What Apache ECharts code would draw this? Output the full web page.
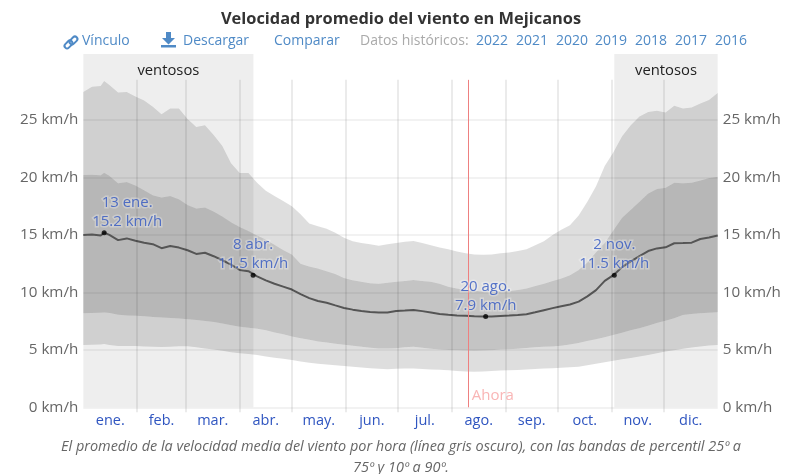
<!DOCTYPE html>
<html><head><meta charset="utf-8">
<style>html,body{margin:0;padding:0;background:#fff}#c{width:792px;height:474px}</style>
<script src="https://cdn.jsdelivr.net/npm/echarts@6/dist/echarts.min.js"></script>
</head><body><div id="c"></div>
<script>
const days=[0,5,10,12,15,20,25,30,35,40,45,50,55,60,65,70,75,80,85,90,95,100,105,110,115,120,125,130,135,140,145,150,155,160,165,170,175,180,185,190,195,200,205,210,215,220,225,230,235,240,245,250,255,260,265,270,275,280,285,290,295,300,305,310,315,320,325,330,335,340,345,350,355,360,365];
const p90=[27.45,27.9,27.97,28.4,28.05,27.4,27.45,27.05,26.7,26.15,25.5,26.0,26.0,25.1,24.4,24.55,23.7,22.75,21.25,20.4,20.4,19.55,18.85,18.4,17.95,17.5,16.8,16.0,15.75,15.55,15.2,14.75,14.45,14.3,14.2,14.05,14.2,14.3,14.4,14.47,14.3,14.1,13.9,13.75,13.55,13.4,13.3,13.28,13.3,13.4,13.47,13.6,13.75,14.1,14.45,15.0,15.45,15.85,16.7,17.9,19.25,21.0,22.2,23.6,24.55,25.3,25.7,25.8,25.65,26.25,26.0,26.1,26.45,26.75,27.35];
const p75=[20.22,20.25,20.2,20.42,20.15,19.5,19.6,19.3,18.9,18.45,18.25,18.4,18.1,17.6,17.3,17.4,17.05,16.6,16.1,15.7,15.35,14.95,14.6,14.15,13.7,13.3,12.5,12.25,12.08,11.85,11.6,11.25,11.05,10.92,10.8,10.75,10.85,10.93,11.0,11.08,11.0,10.92,10.75,10.5,10.35,10.22,10.15,10.08,10.07,10.1,10.13,10.22,10.35,10.55,10.75,11.0,11.2,11.5,11.95,12.6,13.5,14.3,15.4,16.5,17.2,17.9,18.6,19.0,19.1,19.55,19.5,19.55,19.75,19.95,20.07];
const mean=[15.0,15.05,14.95,15.2,15.0,14.55,14.7,14.5,14.32,14.2,13.85,14.04,13.9,13.67,13.35,13.45,13.15,12.8,12.42,11.95,11.85,11.4,11.05,10.75,10.5,10.25,9.85,9.5,9.25,9.1,8.87,8.65,8.5,8.38,8.3,8.26,8.26,8.38,8.42,8.47,8.37,8.25,8.13,8.05,8.0,7.97,7.93,7.9,7.9,7.94,7.98,8.03,8.1,8.27,8.45,8.63,8.8,8.95,9.2,9.65,10.2,11.0,11.5,12.2,12.7,13.15,13.6,13.83,13.92,14.28,14.3,14.33,14.65,14.78,14.95];
const p25=[8.18,8.2,8.22,8.26,8.2,8.05,8.0,7.97,7.92,7.87,7.82,7.78,7.72,7.67,7.6,7.52,7.43,7.3,7.15,7.0,6.92,6.83,6.7,6.52,6.35,6.17,6.02,5.88,5.73,5.63,5.53,5.44,5.35,5.27,5.18,5.12,5.12,5.15,5.22,5.27,5.18,5.1,5.02,4.98,4.96,4.94,4.93,4.94,4.96,5.02,5.05,5.1,5.17,5.22,5.27,5.3,5.35,5.47,5.6,5.78,5.93,6.1,6.3,6.48,6.7,6.87,7.1,7.33,7.53,7.75,8.03,8.12,8.18,8.22,8.27];
const p10=[5.42,5.44,5.46,5.5,5.42,5.34,5.33,5.33,5.3,5.27,5.25,5.28,5.32,5.32,5.22,5.12,5.04,4.92,4.8,4.7,4.64,4.55,4.43,4.32,4.22,4.12,3.98,3.87,3.78,3.72,3.66,3.6,3.53,3.46,3.4,3.36,3.32,3.35,3.38,3.37,3.33,3.3,3.26,3.22,3.17,3.12,3.1,3.12,3.16,3.2,3.23,3.25,3.3,3.33,3.37,3.4,3.44,3.49,3.54,3.65,3.78,3.92,4.06,4.18,4.3,4.42,4.55,4.7,4.85,4.97,5.1,5.2,5.3,5.37,5.42];
const monthNames=['ene.','feb.','mar.','abr.','may.','jun.','jul.','ago.','sep.','oct.','nov.','dic.'];
const monthEdges=[0,31,59,90,120,151,181,212,243,273,304,334,365];
const yTicks=[0,5,10,15,20,25];
const calloutDays=[12,97.7,231.5,305.5];
const calloutValues=[15.2,11.5,7.9,11.5];
const calloutDates=['13 ene.','8 abr.','20 ago.','2 nov.'];
const calloutShift=[23,0,0,0];
const windyPeriods=[[0,97.9],[305.5,365]];
const nowDay=221.2;
const years=['2022','2021','2020','2019','2018','2017','2016'];

const UI='"Open Sans","Noto Sans",sans-serif';
const linesTop=28.5, yTop=30.75;
const labelBlue='#2f55c0', linkBlue='#4f8ac6';
const pairs=a=>days.map((d,i)=>[d,a[i]]);
const mids=monthNames.map((_,i)=>(monthEdges[i]+monthEdges[i+1])/2);
const inner=monthEdges.slice(1,-1);
// One band = one polygon between two percentile curves, placed through the axes' scales.
const band=(name,lo,hi,color)=>({name,type:'custom',z:2,silent:true,clip:false,
  data:days.map((d,i)=>[d,lo[i],hi[i]]),encode:{x:0,y:[1,2]},
  renderItem:(p,api)=>{
    if(p.dataIndex!==0) return null;
    const top=days.map((d,i)=>api.coord([d,hi[i]]));
    const bot=days.map((d,i)=>api.coord([d,lo[i]])).reverse();
    return {type:'polygon',shape:{points:top.concat(bot)},style:{fill:color}};
  }});

const yAxisBase={type:'value',min:0,max:yTop,interval:5,axisLine:{show:false},
  axisTick:{show:false,customValues:yTicks},
  axisLabel:{customValues:yTicks,formatter:v=>v+' km/h',color:'#666',fontSize:15.2,fontFamily:UI,margin:5,hideOverlap:false}};

const series=[
  {name:'fondo',type:'line',data:[],symbol:'none',silent:true,z:1,
   markArea:{silent:true,itemStyle:{color:'rgba(0,0,0,0.066)'},
     label:{show:true,position:'insideTop',distance:9,color:'#222',fontSize:14.8,fontFamily:UI},
     data:windyPeriods.map(p=>[{name:'ventosos',xAxis:p[0],yAxis:0},{xAxis:p[1],yAxis:yTop}])},
   markLine:{silent:true,symbol:'none',clip:false,animation:false,label:{show:false},
     lineStyle:{type:'solid',color:'rgba(0,0,0,0.08)',width:2},
     data:inner.map(x=>[{xAxis:x,yAxis:0},{xAxis:x,yAxis:linesTop}])}},
  band('p10-25',p10,p25,'rgba(0,0,0,0.13)'),
  band('p25-75',p25,p75,'rgba(0,0,0,0.23)'),
  band('p75-90',p75,p90,'rgba(0,0,0,0.13)'),
  {name:'promedio',type:'line',data:pairs(mean),symbol:'none',z:4,silent:true,
   lineStyle:{color:'#555',width:2}},
  {name:'ahora',type:'line',data:[],z:5,silent:true,
   markLine:{silent:true,symbol:'none',clip:false,label:{show:false},
     lineStyle:{type:'solid',color:'#ee8080',width:1},
     data:[[{xAxis:nowDay,yAxis:0},{xAxis:nowDay,yAxis:linesTop}]]}},
  {name:'ahoraTxt',type:'scatter',data:[[nowDay,1.05]],symbolSize:0,z:5,silent:true,
   label:{show:true,position:'right',distance:4,formatter:'Ahora',color:'#f7a3a3',fontSize:15,fontFamily:UI}},
  {name:'destacados',type:'scatter',symbolSize:5,z:6,silent:true,itemStyle:{color:'#000'},
   data:calloutDays.map((d,i)=>({value:[d,calloutValues[i]],
     label:{show:true,position:'top',distance:3,offset:[calloutShift[i],4],
       formatter:calloutDates[i]+'\n'+calloutValues[i]+' km/h',
       color:labelBlue,fontSize:15,lineHeight:19,fontFamily:UI,align:'center',
       textBorderColor:'rgba(255,255,255,0.35)',textBorderWidth:3}}))}
];

const txt=(x,t,color)=>({type:'text',left:x,top:34,silent:true,
  style:{text:t,fill:color,font:'14px '+UI}});
const yearX=[476,516,556,595,635,675,715];
const graphic=[
  txt(82,'Vínculo',linkBlue),txt(183,'Descargar',linkBlue),txt(274,'Comparar',linkBlue),
  txt(360,'Datos históricos:','#aaa')
].concat(years.map((y,i)=>txt(yearX[i],y,linkBlue)));
graphic.push({type:'group',silent:true,left:161,top:32,children:[
  {type:'polygon',shape:{points:[[5,0],[10,0],[10,6],[14,6],[7.5,12.5],[1,6],[5,6]]},style:{fill:linkBlue}},
  {type:'rect',shape:{x:0,y:13,width:15,height:2.5},style:{fill:linkBlue}}
]});
graphic.push({type:'group',silent:true,left:60,top:32,children:[
  {type:'rect',rotation:Math.PI/4,x:2,y:12,shape:{x:0,y:-2.5,width:9,height:5,r:2.5},style:{fill:'none',stroke:linkBlue,lineWidth:2},originX:0,originY:0},
  {type:'rect',rotation:Math.PI/4,x:7,y:8,shape:{x:0,y:-2.5,width:9,height:5,r:2.5},style:{fill:'none',stroke:linkBlue,lineWidth:2},originX:0,originY:0}
]});

const chart=echarts.init(document.getElementById('c'),null,{renderer:'canvas'});
chart.setOption({
  animation:false,
  title:[
    {text:'Velocidad promedio del viento en Mejicanos',left:396,top:6,textAlign:'center',
     textStyle:{fontSize:16.4,fontWeight:'bold',color:'#333',fontFamily:UI}},
    {text:'El promedio de la velocidad media del viento por hora (línea gris oscuro), con las bandas de percentil 25º a\n75º y 10º a 90º.',
     left:396,top:431,textAlign:'center',
     textStyle:{fontSize:14.45,fontWeight:'normal',fontStyle:'italic',color:'#666',lineHeight:21,fontFamily:UI,align:'center'}}
  ],
  grid:{left:83.3,right:74.3,top:54,bottom:66.7,containLabel:false},
  tooltip:{show:false},legend:{show:false},
  xAxis:{type:'value',min:0,max:365,
    axisLine:{show:false},splitLine:{show:false},
    axisTick:{show:true,length:5,customValues:inner,lineStyle:{color:'rgba(0,0,0,0.08)',width:2}},
    axisLabel:{customValues:mids,margin:6,color:labelBlue,fontSize:14.5,fontFamily:UI,
      formatter:v=>monthNames[mids.indexOf(v)]}},
  yAxis:[
    Object.assign({},yAxisBase,{position:'left',splitLine:{show:true,lineStyle:{color:'rgba(0,0,0,0.05)',width:2}}}),
    Object.assign({},yAxisBase,{position:'right',splitLine:{show:false}})
  ],
  graphic,
  series
});
</script></body></html>
